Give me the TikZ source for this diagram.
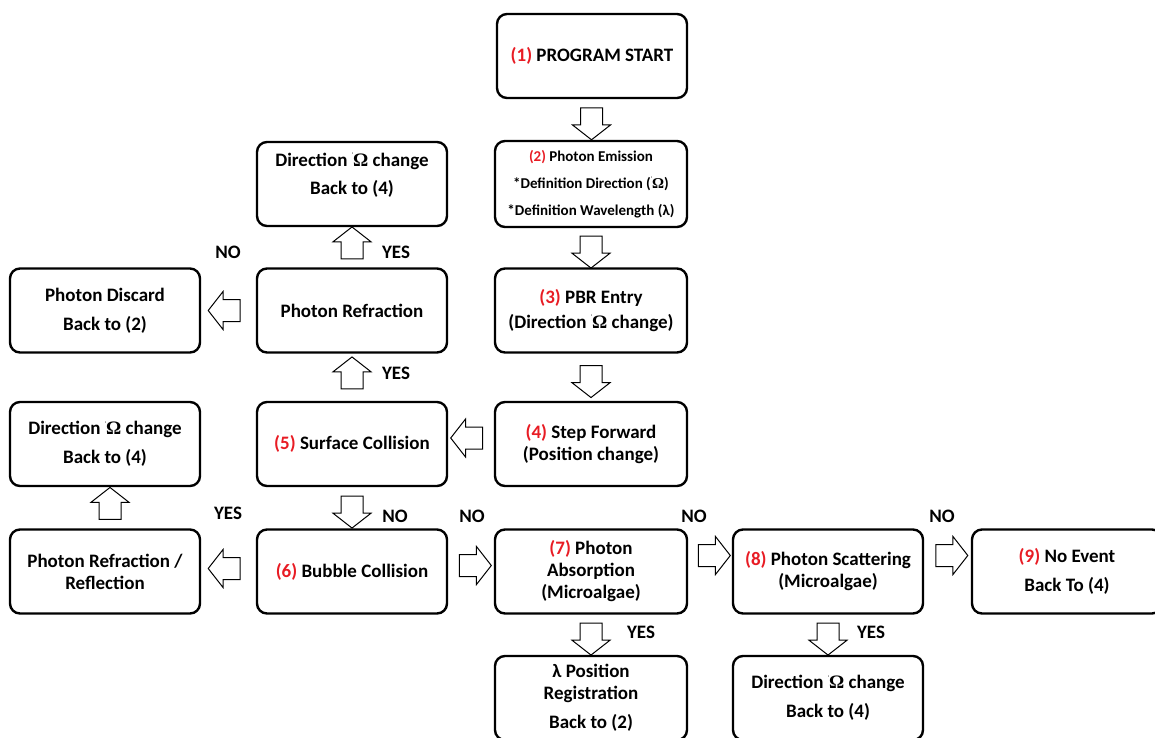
\documentclass[tikz,border=0pt]{standalone}
\usepackage{fontspec}
\setmainfont{Carlito}
\newfontfamily\greekserif{Liberation Serif}
\usetikzlibrary{shapes.arrows,calc}
\definecolor{numred}{RGB}{232,28,36}
\newcommand{\stepnum}[1]{\textcolor{numred}{(#1)}}
\newcommand{\om}{{\raisebox{0.5em}{\tiny'}}{\greekserif\bfseries Ω}}
\tikzset{
  stage/.style={draw, line width=2.4pt, rounded corners=10pt,
    minimum width=190pt, minimum height=84pt, align=center, inner sep=2pt,
    font=\fontsize{19}{22}\selectfont\bfseries},
  flow/.style={single arrow, draw, line width=1pt, minimum height=32pt,
    minimum width=38pt, single arrow head extend=8pt,
    single arrow tip angle=104, inner sep=0pt, text height=21pt, text depth=0pt},
  lab/.style={font=\fontsize{19}{22}\selectfont\bfseries}
}
\begin{document}
\begin{tikzpicture}[x=1pt, y=-1pt]
  \useasboundingbox (0,0) rectangle (1155,737);
  % main column
  \node[stage] (start) at (592,56) {\stepnum{1} PROGRAM START};
  \node[stage, minimum width=192pt, minimum height=86pt,
        font=\fontsize{15}{27}\selectfont\bfseries] (emit) at (591,184)
    {\stepnum{2} Photon Emission\\*Definition Direction (\om)\\*Definition Wavelength (λ)};
  \node[stage, minimum width=192pt] (entry) at (591,310.5)
    {\stepnum{3} PBR Entry\\[3pt](Direction \om\ change)};
  \node[stage, minimum width=192pt] (fwd) at (591,444)
    {\stepnum{4} Step Forward\\(Position change)};
  % second column
  \node[stage] (surf) at (352,444) {\stepnum{5} Surface Collision};
  \node[stage] (refr) at (352,310.5) {Photon Refraction};
  \node[stage] (dirtop) at (352,184) {Direction \om\ change\\[6pt]Back to (4)\\[-1pt]};
  \node[stage] (bubble) at (352,571.5) {\stepnum{6} Bubble Collision};
  % left column
  \node[stage] (discard) at (105,310.5) {Photon Discard\\[7pt]Back to (2)};
  \node[stage] (dirleft) at (105,444) {Direction \om\ change\\[7pt]Back to (4)};
  \node[stage] (refl) at (105,571.5) {Photon Refraction /\\Reflection};
  % bottom row
  \node[stage, minimum width=192pt] (absorb) at (591,571.5)
    {\stepnum{7} Photon\\Absorption\\(Microalgae)};
  \node[stage] (scatter) at (828,571.5)
    {\stepnum{8} Photon Scattering\\(Microalgae)};
  \node[stage] (noevent) at (1067,571.5) {\stepnum{9} No Event\\[7pt]Back To (4)};
  \node[stage, minimum width=192pt] (regist) at (591,698)
    {λ Position\\Registration\\[7pt]Back to (2)};
  \node[stage] (dirbot) at (828,698) {Direction \om\ change\\[7pt]Back to (4)};

  % block arrows
  \node[flow, rotate=-90] (a12) at ($(start.south)!0.5!(emit.north)$) {};
  \node[flow, rotate=-90] (a23) at ($(emit.south)!0.5!(entry.north)$) {};
  \node[flow, rotate=-90] (a34) at ($(entry.south)!0.5!(fwd.north)$) {};
  \node[flow, rotate=180, yshift=-6pt] (a45) at ($(fwd.west)!0.5!(surf.east)$) {};
  \node[flow, rotate=90] (a5r) at ($(surf.north)!0.5!(refr.south)$) {};
  \node[flow, rotate=90] (ard) at ($(refr.north)!0.5!(dirtop.south)$) {};
  \node[flow, rotate=180] (arx) at ($(refr.west)!0.5!(discard.east)$) {};
  \node[flow, rotate=-90] (a56) at ($(surf.south)!0.5!(bubble.north)$) {};
  \node[flow, rotate=180, yshift=-3pt] (a6l) at ($(bubble.west)!0.5!(refl.east)$) {};
  \node[flow, rotate=90, yshift=-5pt] (ald) at ($(refl.north)!0.5!(dirleft.south)$) {};
  \node[flow, yshift=6pt] (a67) at ($(bubble.east)!0.5!(absorb.west)$) {};
  \node[flow, yshift=16pt] (a78) at ($(absorb.east)!0.5!(scatter.west)$) {};
  \node[flow, yshift=16pt] (a89) at ($(scatter.east)!0.5!(noevent.west)$) {};
  \node[flow, rotate=-90] (a7b) at ($(absorb.south)!0.5!(regist.north)$) {};
  \node[flow, rotate=-90] (a8b) at ($(scatter.south)!0.5!(dirbot.north)$) {};

  % answers
  \node[lab] (noA) at (228,252) {NO};
  \node[lab] (yesA) at (396,252) {YES};
  \node[lab] (yesB) at (396,373) {YES};
  \node[lab] (noB) at (395,516) {NO};
  \node[lab] (yesC) at (228,513) {YES};
  \node[lab] (noC) at (472,516) {NO};
  \node[lab] (noD) at (694,516) {NO};
  \node[lab] (noE) at (942,516) {NO};
  \node[lab] (yesD) at (641,632) {YES};
  \node[lab] (yesE) at (871,632) {YES};
\end{tikzpicture}
\end{document}
